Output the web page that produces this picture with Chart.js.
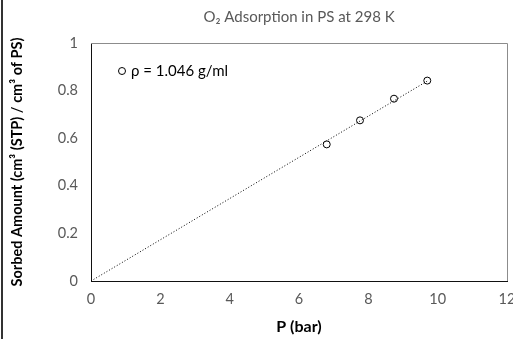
<!DOCTYPE html>
<html>
<head>
<meta charset="utf-8">
<script src="https://cdn.jsdelivr.net/npm/chart.js@4"></script>
<style>
  html, body { margin: 0; padding: 0; background: #fff; }
  #wrap { position: relative; width: 513px; height: 339px; }
  #edge { position: absolute; left: 1px; top: 0; width: 2px; height: 339px; background: #333; }
</style>
</head>
<body>
<div id="wrap">
  <canvas id="chart" width="513" height="339"></canvas>
  <div id="edge"></div>
</div>
<script>
// data
const pressure = [6.80, 7.76, 8.74, 9.70];
const sorbed = [0.574, 0.675, 0.766, 0.842];
const trendX = [0, 9.70];
const trendY = [0, 0.84];
const xTicks = [0, 2, 4, 6, 8, 10, 12];
const yTicks = [0, 0.2, 0.4, 0.6, 0.8, 1];
const legendLabel = "ρ = 1.046 g/ml";

const FONT = "Lato, 'Open Sans', sans-serif";
const GREY = "#595959";

// box round the plot area + legend inside it
const plotBox = {
  id: "plotBox",
  afterDraw(chart) {
    const { ctx, chartArea: a } = chart;
    ctx.save();
    ctx.strokeStyle = "#8c8c8c";
    ctx.lineWidth = 1;
    ctx.beginPath();
    ctx.moveTo(a.left, a.top + 0.5);
    ctx.lineTo(a.right + 0.5, a.top + 0.5);
    ctx.lineTo(a.right + 0.5, a.bottom);
    ctx.stroke();

    // legend
    ctx.strokeStyle = "#000";
    ctx.beginPath();
    ctx.arc(122, 71, 3.5, 0, Math.PI * 2);
    ctx.stroke();
    ctx.fillStyle = "#000";
    ctx.font = "15px " + FONT;
    ctx.textBaseline = "middle";
    ctx.fillText(legendLabel, 131, 71);
    ctx.restore();
  }
};

new Chart(document.getElementById("chart"), {
  type: "scatter",
  data: {
    datasets: [
      {
        label: "trend",
        data: trendX.map((x, i) => ({ x, y: trendY[i] })),
        showLine: true,
        borderColor: "#000",
        borderWidth: 1,
        borderDash: [1, 2],
        pointRadius: 0,
        fill: false
      },
      {
        label: legendLabel,
        data: pressure.map((x, i) => ({ x, y: sorbed[i] })),
        pointRadius: 3.5,
        pointBorderWidth: 1,
        pointBorderColor: "#000",
        pointBackgroundColor: "#fff"
      }
    ]
  },
  options: {
    responsive: false,
    animation: false,
    layout: { padding: { left: 0, right: 6, top: 0, bottom: 0 } },
    plugins: {
      legend: { display: false },
      tooltip: { enabled: false },
      title: {
        display: true,
        fullSize: false,
        text: "O₂ Adsorption in PS at 298 K",
        color: GREY,
        font: { family: FONT, size: 15, weight: "normal" },
        padding: { top: 8, bottom: 17 }
      }
    },
    scales: {
      x: {
        type: "linear",
        min: 0,
        max: 12,
        afterBuildTicks: (s) => { s.ticks = xTicks.map(v => ({ value: v })); },
        afterFit: (s) => { s.height = 58; s.paddingLeft = 0; s.paddingRight = 0; },
        grid: { display: false, drawTicks: false },
        border: { display: true, color: "#111", width: 1 },
        ticks: { color: GREY, padding: 10, font: { family: FONT, size: 14.5 } },
        title: {
          display: true,
          text: "P (bar)",
          color: "#000",
          font: { family: FONT, size: 16, weight: "bold" },
          padding: { top: 0, bottom: 2.4 }
        }
      },
      y: {
        type: "linear",
        min: 0,
        max: 1,
        afterBuildTicks: (s) => { s.ticks = yTicks.map(v => ({ value: v })); },
        afterFit: (s) => { s.width = 91; s.paddingTop = 0; s.paddingBottom = 0; },
        grid: { display: false, drawTicks: false },
        border: { display: true, color: "#111", width: 1 },
        ticks: {
          color: GREY,
          padding: 13,
          font: { family: FONT, size: 14.5 },
          callback: (v) => String(v)
        },
        title: {
          display: true,
          text: "Sorbed Amount (cm³ (STP) / cm³ of PS)",
          color: "#000",
          font: { family: FONT, size: 14.5, weight: "bold" },
          padding: { top: 9, bottom: 0 }
        }
      }
    }
  },
  plugins: [plotBox]
});
</script>
</body>
</html>
